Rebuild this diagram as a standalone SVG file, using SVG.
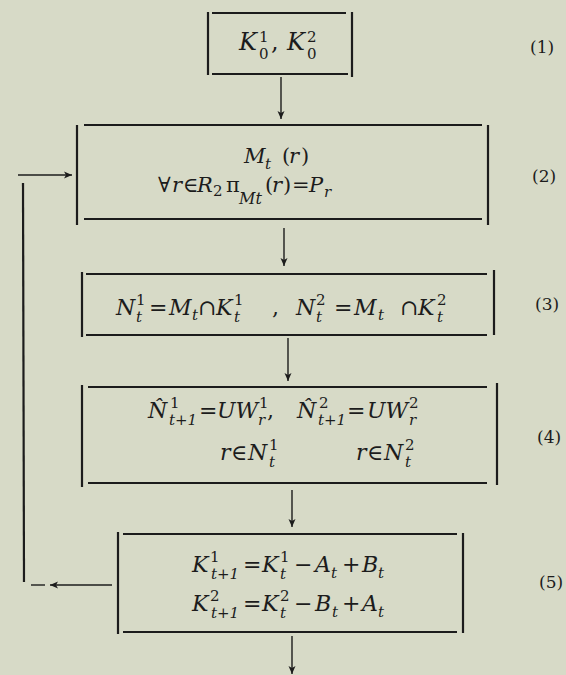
<svg xmlns="http://www.w3.org/2000/svg" width="566" height="675" viewBox="0 0 566 675">
<style>
.bg{fill:#d7dac7}
.ln{stroke:#1c1c1c;stroke-width:2.2;fill:none;stroke-linecap:butt}
.th{stroke:#1c1c1c;stroke-width:1.4;fill:none}
.m{font-family:"DejaVu Serif","Liberation Serif",serif;font-style:italic;font-size:22px;fill:#1c1c1c}
.u{font-style:normal}
.s{font-size:15px}
.lab{font-family:"DejaVu Serif","Liberation Serif",serif;font-size:17px;fill:#1c1c1c}
</style>
<defs>
<marker id="ah" markerWidth="10" markerHeight="10" refX="9" refY="5" orient="auto" markerUnits="userSpaceOnUse">
<path d="M1,1.5 L9,5 L1,8.5 L3,5 Z" fill="#1c1c1c"/>
</marker>
</defs>
<rect class="bg" x="0" y="0" width="566" height="675"/>

<g id="connectors">
<line class="th" x1="281" y1="77" x2="281" y2="119" marker-end="url(#ah)"/>
<line class="th" x1="284" y1="228" x2="284" y2="266" marker-end="url(#ah)"/>
<line class="th" x1="288" y1="338" x2="288" y2="381" marker-end="url(#ah)"/>
<line class="th" x1="292" y1="490" x2="292" y2="527" marker-end="url(#ah)"/>
<line class="th" x1="292" y1="636" x2="292" y2="674" marker-end="url(#ah)"/>
<line class="th" x1="18" y1="175" x2="72" y2="175" marker-end="url(#ah)"/>
<line class="ln" x1="23" y1="183" x2="24" y2="582"/>
<line class="th" x1="31" y1="585" x2="45" y2="585"/>
<line class="th" x1="112" y1="585" x2="50" y2="585" marker-end="url(#ah)"/>
</g>

<g id="n1">
<line class="ln" x1="208" y1="12" x2="208" y2="75"/>
<line class="ln" x1="352" y1="12" x2="352" y2="77"/>
<line class="ln" x1="212" y1="13" x2="346" y2="13"/>
<line class="ln" x1="212" y1="74" x2="348" y2="74"/>
<text class="m" style="font-size:24px"><tspan x="239" y="50">K</tspan><tspan class="u" style="font-size:15px" x="259" y="42">1</tspan><tspan class="u" style="font-size:15px" x="259" y="59">0</tspan><tspan class="u" x="271" y="50">,</tspan><tspan x="287" y="50">K</tspan><tspan class="u" style="font-size:15px" x="307" y="42">2</tspan><tspan class="u" style="font-size:15px" x="307" y="59">0</tspan></text>
</g>

<g id="n2">
<line class="ln" x1="77" y1="125" x2="77" y2="225"/>
<line class="ln" x1="488" y1="125" x2="488" y2="225"/>
<line class="ln" x1="84" y1="125" x2="482" y2="125"/>
<line class="ln" x1="84" y1="219" x2="482" y2="219"/>
<text class="m" style="font-size:21px"><tspan x="244" y="163">M</tspan><tspan class="s" x="265" y="169">t</tspan><tspan class="u" x="282" y="163">(</tspan><tspan x="289" y="163">r</tspan><tspan class="u" x="301" y="163">)</tspan></text>
<text class="m" style="font-size:21px"><tspan class="u" x="158" y="192">∀</tspan><tspan x="172" y="192">r</tspan><tspan class="u" x="183" y="192">∈</tspan><tspan x="197" y="192">R</tspan><tspan class="u s" x="213" y="196">2</tspan><tspan class="u" x="226" y="192">π</tspan><tspan style="font-size:16px" x="239" y="204">Mt</tspan><tspan class="u" x="265" y="192">(</tspan><tspan x="272" y="192">r</tspan><tspan class="u" x="283" y="192">)</tspan><tspan class="u" x="292" y="192">=</tspan><tspan x="309" y="192">P</tspan><tspan class="s" x="324" y="197">r</tspan></text>
</g>

<g id="n3">
<line class="ln" x1="82" y1="272" x2="82" y2="337"/>
<line class="ln" x1="494" y1="270" x2="494" y2="335"/>
<line class="ln" x1="86" y1="274" x2="487" y2="274"/>
<line class="ln" x1="86" y1="335" x2="487" y2="335"/>
<text class="m"><tspan x="116" y="315">N</tspan><tspan class="u s" x="136" y="305">1</tspan><tspan class="s" x="136" y="322">t</tspan><tspan class="u" x="149" y="315">=</tspan><tspan x="169" y="315">M</tspan><tspan class="s" x="192" y="320">t</tspan><tspan class="u" x="198" y="315">∩</tspan><tspan x="216" y="315">K</tspan><tspan class="u s" x="234" y="305">1</tspan><tspan class="s" x="234" y="322">t</tspan><tspan class="u" x="272" y="315">,</tspan><tspan x="296" y="315">N</tspan><tspan class="u s" x="316" y="305">2</tspan><tspan class="s" x="316" y="322">t</tspan><tspan class="u" x="334" y="315">=</tspan><tspan x="354" y="315">M</tspan><tspan class="s" x="378" y="320">t</tspan><tspan class="u" x="400" y="315">∩</tspan><tspan x="418" y="315">K</tspan><tspan class="u s" x="437" y="305">2</tspan><tspan class="s" x="437" y="322">t</tspan></text>
</g>

<g id="n4">
<line class="ln" x1="82" y1="385" x2="82" y2="487"/>
<line class="ln" x1="497" y1="383" x2="497" y2="485"/>
<line class="ln" x1="88" y1="387" x2="487" y2="387"/>
<line class="ln" x1="88" y1="483" x2="487" y2="483"/>
<text class="m"><tspan x="148" y="418">N̂</tspan><tspan class="u s" x="170" y="408">1</tspan><tspan class="s" x="169" y="425">t+1</tspan><tspan class="u" x="199" y="418">=</tspan><tspan x="217" y="418">UW</tspan><tspan class="u s" x="259" y="408">1</tspan><tspan class="s" x="258" y="425">r</tspan><tspan class="u" x="267" y="418">,</tspan><tspan x="297" y="418">N̂</tspan><tspan class="u s" x="319" y="408">2</tspan><tspan class="s" x="318" y="425">t+1</tspan><tspan class="u" x="347" y="418">=</tspan><tspan x="367" y="418">UW</tspan><tspan class="u s" x="409" y="408">2</tspan><tspan class="s" x="409" y="425">r</tspan></text>
<text class="m"><tspan x="220" y="460">r</tspan><tspan class="u" x="231" y="460">∈</tspan><tspan x="248" y="460">N</tspan><tspan class="u s" x="269" y="450">1</tspan><tspan class="s" x="269" y="467">t</tspan></text>
<text class="m"><tspan x="356" y="460">r</tspan><tspan class="u" x="367" y="460">∈</tspan><tspan x="384" y="460">N</tspan><tspan class="u s" x="405" y="450">2</tspan><tspan class="s" x="405" y="467">t</tspan></text>
</g>

<g id="n5">
<line class="ln" x1="118" y1="532" x2="118" y2="634"/>
<line class="ln" x1="463" y1="533" x2="463" y2="633"/>
<line class="ln" x1="123" y1="534" x2="457" y2="534"/>
<line class="ln" x1="123" y1="632" x2="457" y2="632"/>
<text class="m"><tspan x="192" y="572">K</tspan><tspan class="u s" x="210" y="562">1</tspan><tspan class="s" x="211" y="579">t+1</tspan><tspan class="u" x="243" y="572">=</tspan><tspan x="262" y="572">K</tspan><tspan class="u s" x="280" y="562">1</tspan><tspan class="s" x="280" y="579">t</tspan><tspan class="u" x="294" y="572">−</tspan><tspan x="315" y="572">A</tspan><tspan class="s" x="331" y="578">t</tspan><tspan class="u" x="342" y="572">+</tspan><tspan x="362" y="572">B</tspan><tspan class="s" x="378" y="578">t</tspan></text>
<text class="m"><tspan x="192" y="611">K</tspan><tspan class="u s" x="210" y="601">2</tspan><tspan class="s" x="211" y="618">t+1</tspan><tspan class="u" x="243" y="611">=</tspan><tspan x="262" y="611">K</tspan><tspan class="u s" x="280" y="601">2</tspan><tspan class="s" x="280" y="618">t</tspan><tspan class="u" x="294" y="611">−</tspan><tspan x="315" y="611">B</tspan><tspan class="s" x="332" y="617">t</tspan><tspan class="u" x="342" y="611">+</tspan><tspan x="362" y="611">A</tspan><tspan class="s" x="378" y="617">t</tspan></text>
</g>

<g id="labels">
<text class="lab" x="530" y="53">(1)</text>
<text class="lab" x="532" y="182">(2)</text>
<text class="lab" x="535" y="310">(3)</text>
<text class="lab" x="537" y="443">(4)</text>
<text class="lab" x="539" y="588">(5)</text>
</g>
</svg>
